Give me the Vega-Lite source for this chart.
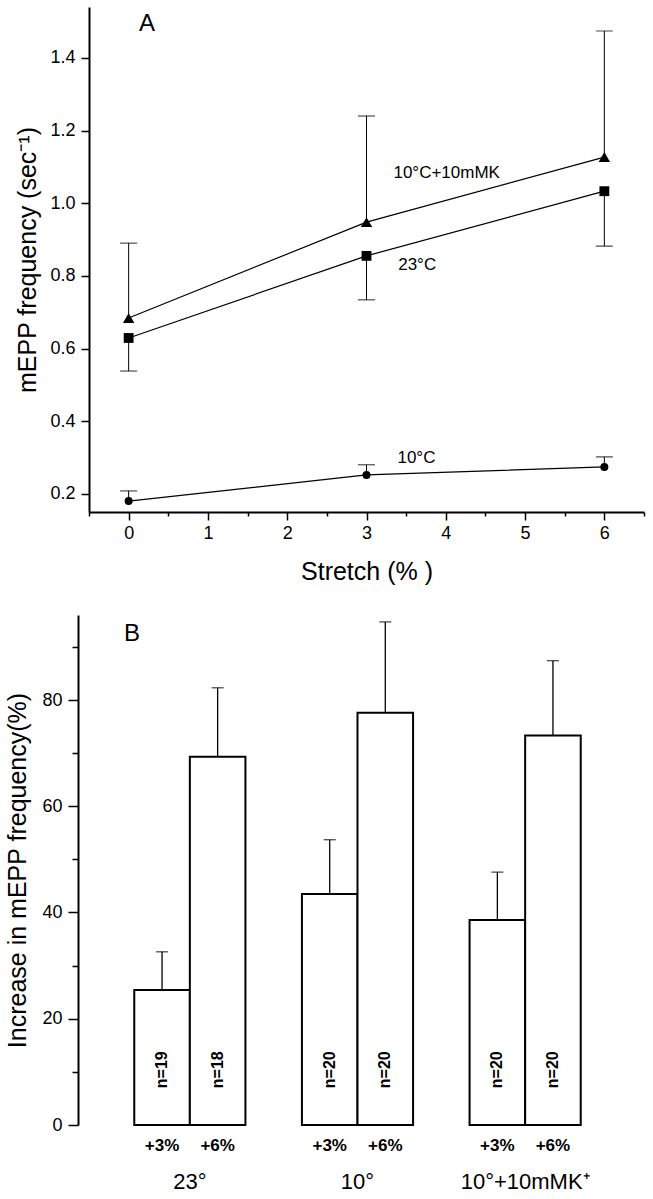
{
  "$schema": "https://vega.github.io/schema/vega-lite/v6.json",
  "background": "white",
  "padding": {"left": 5, "top": 7, "right": 5, "bottom": 5},
  "spacing": 31,
  "config": {
    "font": "Liberation Sans",
    "view": {"stroke": null},
    "axis": {
      "domainColor": "black", "domainWidth": 2, "tickColor": "black", "tickWidth": 1.5,
      "labelColor": "black", "titleColor": "black", "titleFontWeight": "normal",
      "labelFont": "Liberation Sans", "titleFont": "Liberation Sans", "grid": false,
      "labelOverlap": false, "labelFlush": false
    }
  },
  "vconcat": [
    {
      "width": 555,
      "height": 505,
      "data": {"values": [
        {"series": "10°C+10mMK", "stretch": 0, "mean": 0.684, "err": 0.89},
        {"series": "10°C+10mMK", "stretch": 3, "mean": 0.948, "err": 1.24},
        {"series": "10°C+10mMK", "stretch": 6, "mean": 1.127, "err": 1.474},
        {"series": "23°C", "stretch": 0, "mean": 0.629, "err": 0.538},
        {"series": "23°C", "stretch": 3, "mean": 0.855, "err": 0.734},
        {"series": "23°C", "stretch": 6, "mean": 1.033, "err": 0.882},
        {"series": "10°C", "stretch": 0, "mean": 0.18, "err": 0.208},
        {"series": "10°C", "stretch": 3, "mean": 0.252, "err": 0.28},
        {"series": "10°C", "stretch": 6, "mean": 0.274, "err": 0.302}
      ]},
      "resolve": {"axis": {"x": "independent"}},
      "layer": [
        {
          "mark": {"type": "rule", "color": "black", "strokeWidth": 1},
          "encoding": {
            "x": {"field": "stretch", "type": "quantitative",
              "scale": {"domain": [-0.5, 6.5], "nice": false, "zero": false},
              "axis": {
                "orient": "bottom",
                "values": [0, 1, 2, 3, 4, 5, 6],
                "format": "d",
                "tickSize": 8,
                "labelFontSize": 18, "labelPadding": 4,
                "title": "Stretch (% )", "titleFontSize": 25, "titlePadding": 17
              }},
            "y": {"field": "mean", "type": "quantitative",
              "scale": {"domain": [0.15, 1.54], "nice": false, "zero": false},
              "axis": {
                "values": [0.2, 0.3, 0.4, 0.5, 0.6, 0.7, 0.8, 0.9, 1.0, 1.1, 1.2, 1.3, 1.4, 1.5],
                "labelExpr": "round(datum.value * 10) % 2 === 0 ? format(datum.value, '.1f') : ''",
                "tickSize": {"condition": {"test": "round(datum.value * 10) % 2 !== 0", "value": 4}, "value": 8},
                "labelFontSize": 18, "labelPadding": 6,
                "title": "mEPP frequency (sec⁻¹)", "titleFontSize": 25, "titlePadding": 9
              }},
            "y2": {"field": "err"}
          }
        },
        {
          "mark": {"type": "tick", "orient": "horizontal", "color": "black", "size": 17, "thickness": 1.2},
          "encoding": {
            "x": {"field": "stretch", "type": "quantitative",
              "axis": {
                "orient": "bottom",
                "values": [-0.5, 0.5, 1.5, 2.5, 3.5, 4.5, 5.5, 6.5],
                "tickSize": 4, "labels": false, "domain": false, "title": null
              }},
            "y": {"field": "err", "type": "quantitative"}
          }
        },
        {
          "mark": {"type": "line", "color": "black", "strokeWidth": 1.2},
          "encoding": {
            "x": {"field": "stretch", "type": "quantitative", "axis": null},
            "y": {"field": "mean", "type": "quantitative"},
            "detail": {"field": "series"}
          }
        },
        {
          "mark": {"type": "point", "filled": true, "color": "black", "opacity": 1},
          "encoding": {
            "x": {"field": "stretch", "type": "quantitative", "axis": null},
            "y": {"field": "mean", "type": "quantitative"},
            "shape": {"field": "series", "type": "nominal",
              "scale": {"domain": ["10°C+10mMK", "23°C", "10°C"], "range": ["triangle-up", "square", "circle"]},
              "legend": null},
            "size": {"field": "series", "type": "nominal",
              "scale": {"domain": ["10°C+10mMK", "23°C", "10°C"], "range": [130, 64, 81]},
              "legend": null}
          }
        },
        {
          "data": {"values": [{"label": "A"}]},
          "mark": {"type": "text", "fontSize": 24, "align": "center", "baseline": "middle", "color": "black"},
          "encoding": {"x": {"datum": 0.23, "axis": null}, "y": {"datum": 1.494}, "text": {"field": "label"}}
        },
        {
          "data": {"values": [{"label": "10°C+10mMK"}]},
          "mark": {"type": "text", "fontSize": 17, "align": "left", "baseline": "middle", "color": "black"},
          "encoding": {"x": {"datum": 3.34, "axis": null}, "y": {"datum": 1.084}, "text": {"field": "label"}}
        },
        {
          "data": {"values": [{"label": "23°C"}]},
          "mark": {"type": "text", "fontSize": 17, "align": "left", "baseline": "middle", "color": "black"},
          "encoding": {"x": {"datum": 3.4, "axis": null}, "y": {"datum": 0.831}, "text": {"field": "label"}}
        },
        {
          "data": {"values": [{"label": "10°C"}]},
          "mark": {"type": "text", "fontSize": 17, "align": "left", "baseline": "middle", "color": "black"},
          "encoding": {"x": {"datum": 3.39, "axis": null}, "y": {"datum": 0.3}, "text": {"field": "label"}}
        }
      ]
    },
    {
      "width": 537,
      "height": 510,
      "data": {"values": [
        {"group": "23°", "stretch": "+3%", "value": 25.4, "err": 32.6, "n": "n=19"},
        {"group": "23°", "stretch": "+6%", "value": 69.3, "err": 82.3, "n": "n=18"},
        {"group": "10°", "stretch": "+3%", "value": 43.5, "err": 53.7, "n": "n=20"},
        {"group": "10°", "stretch": "+6%", "value": 77.6, "err": 94.7, "n": "n=20"},
        {"group": "10°+10mMK⁺", "stretch": "+3%", "value": 38.6, "err": 47.6, "n": "n=20"},
        {"group": "10°+10mMK⁺", "stretch": "+6%", "value": 73.3, "err": 87.4, "n": "n=20"}
      ]},
      "encoding": {
        "x": {"field": "group", "type": "nominal", "sort": null,
          "scale": {"paddingInner": 0.337, "paddingOuter": 0.27},
          "axis": {"domain": false, "ticks": false, "labelAngle": 0, "labelFontSize": 22,
            "labelPadding": 46, "title": null}},
        "xOffset": {"field": "stretch", "type": "nominal", "sort": ["+3%", "+6%"],
          "scale": {"paddingInner": 0, "paddingOuter": 0}}
      },
      "layer": [
        {
          "mark": {"type": "bar", "fill": "white", "stroke": "black", "strokeWidth": 2},
          "encoding": {
            "y": {"field": "value", "type": "quantitative",
              "scale": {"domain": [0, 96], "nice": false},
              "axis": {
                "values": [0, 5, 10, 15, 20, 25, 30, 35, 40, 45, 50, 55, 60, 65, 70, 75, 80, 85, 90, 95],
                "labelExpr": "datum.value % 20 === 0 ? format(datum.value, 'd') : ''",
                "tickSize": {"condition": {"test": "datum.value % 20 !== 0", "value": 6}, "value": 10},
                "labelFontSize": 18, "labelPadding": 6, "offset": 11,
                "title": "Increase in mEPP frequency(%)", "titleFontSize": 25, "titlePadding": 11
              }}
          }
        },
        {
          "mark": {"type": "rule", "color": "black", "strokeWidth": 1.3},
          "encoding": {
            "y": {"field": "value", "type": "quantitative"},
            "y2": {"field": "err"}
          }
        },
        {
          "mark": {"type": "tick", "orient": "horizontal", "color": "black", "size": 12, "thickness": 1.3},
          "encoding": {
            "y": {"field": "err", "type": "quantitative"}
          }
        },
        {
          "mark": {"type": "text", "angle": 270, "fontSize": 16, "fontWeight": "bold", "align": "center", "baseline": "middle", "color": "black"},
          "encoding": {
            "y": {"datum": 10.4},
            "text": {"field": "n"}
          }
        },
        {
          "mark": {"type": "text", "fontSize": 17, "fontWeight": "bold", "align": "center", "baseline": "middle", "color": "black"},
          "encoding": {
            "y": {"datum": -3.9},
            "text": {"field": "stretch"}
          }
        },
        {
          "data": {"values": [{"group": "23°", "stretch": "+3%", "label": "B"}]},
          "mark": {"type": "text", "fontSize": 24, "align": "center", "baseline": "middle", "color": "black", "dx": -30},
          "encoding": {
            "y": {"datum": 92.4},
            "text": {"field": "label"}
          }
        }
      ]
    }
  ]
}
